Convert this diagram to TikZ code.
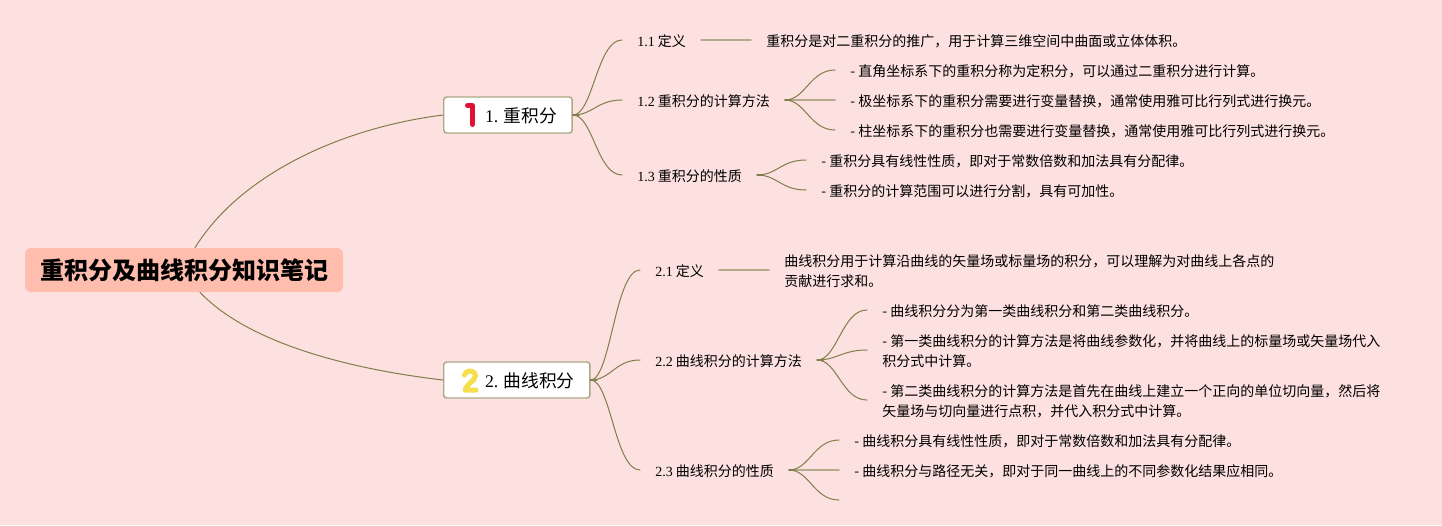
\documentclass[tikz,border=0pt]{standalone}
\usepackage{fontspec}
\setmainfont{Liberation Serif}
\newfontfamily\zhfont{Noto Sans CJK SC}
\definecolor{pagebg}{HTML}{FDE0E0}
\definecolor{rootfill}{HTML}{FFBDAD}
\definecolor{twigline}{HTML}{7F7F4A}
\definecolor{stemline}{HTML}{B3AB8C}
\definecolor{boxline}{HTML}{ADA985}
\definecolor{markred}{HTML}{DF1234}
\definecolor{markyellow}{HTML}{F5DF4D}
\tikzset{
  every picture/.style={line join=round, line cap=round},
  rootbox/.style={fill=rootfill, rounded corners=4.5pt, minimum width=238.5pt, minimum height=33pt, inner sep=0pt, text height=15.5pt, text depth=2pt, font=\zhfont\fontsize{18}{22}\selectfont\bfseries},
  topicbox/.style={draw=boxline, line width=1.1pt, fill=white, rounded corners=2.2pt, anchor=west, minimum height=27pt, inner xsep=11.5pt, inner ysep=0pt, text height=12.5pt, text depth=1.5pt, font=\zhfont\fontsize{13.3}{16}\selectfont},
  leafbase/.style={anchor=west, inner xsep=11.25pt, inner ysep=0pt, align=left, font=\zhfont\fontsize{10.5}{15}\selectfont, execute at end node={\rule[-1.8pt]{0pt}{1.8pt}}},
  leaf/.style={leafbase, execute at begin node={\rule{0pt}{11.5pt}}},
  wrapleaf/.style={leafbase, execute at begin node={\rule{0pt}{26.5pt}}},
  twig/.style={draw=twigline, line width=0.75pt},
  stub/.style={draw=twigline, line width=1.3pt},
  stem/.style={draw=stemline, line width=1.4pt},
}
\newcommand{\latin}[1]{{\rmfamily #1}}
\begin{document}
\begin{tikzpicture}[x=0.75pt,y=-0.75pt]
\useasboundingbox (0,0) rectangle (1442,525);
\fill[pagebg] (0,0) rectangle (1442,525);
\node[rootbox] (root) at (184,270) {重积分及曲线积分知识笔记};
\node[topicbox] (one) at (443,115) {\hspace*{19.5pt}\latin{1.} 重积分};
\node[topicbox] (two) at (443,380) {\hspace*{19.5pt}\latin{2.} 曲线积分};
\node[leaf] (oneone) at (622,40) {\latin{1.1} 定义};
\node[leaf] (onetwo) at (622,100) {\latin{1.2} 重积分的计算方法};
\node[leaf] (onethree) at (622,175) {\latin{1.3} 重积分的性质};
\node[leaf] (oneonetext) at (751,40) {重积分是对二重积分的推广，用于计算三维空间中曲面或立体体积。};
\node[leaf] (onetwoa) at (835,70) {- 直角坐标系下的重积分称为定积分，可以通过二重积分进行计算。};
\node[leaf] (onetwob) at (835,100) {- 极坐标系下的重积分需要进行变量替换，通常使用雅可比行列式进行换元。};
\node[leaf] (onetwoc) at (835,130) {- 柱坐标系下的重积分也需要进行变量替换，通常使用雅可比行列式进行换元。};
\node[leaf] (onethreea) at (806,160) {- 重积分具有线性性质，即对于常数倍数和加法具有分配律。};
\node[leaf] (onethreeb) at (806,190) {- 重积分的计算范围可以进行分割，具有可加性。};
\node[leaf] (twoone) at (640,270) {\latin{2.1} 定义};
\node[leaf] (twotwo) at (640,360) {\latin{2.2} 曲线积分的计算方法};
\node[leaf] (twothree) at (640,470) {\latin{2.3} 曲线积分的性质};
\node[wrapleaf] (twoonetext) at (769,270) {曲线积分用于计算沿曲线的矢量场或标量场的积分，可以理解为对曲线上各点的\\贡献进行求和。};
\node[leaf] (twotwoa) at (867,310) {- 曲线积分分为第一类曲线积分和第二类曲线积分。};
\node[wrapleaf] (twotwob) at (867,350) {- 第一类曲线积分的计算方法是将曲线参数化，并将曲线上的标量场或矢量场代入\\积分式中计算。};
\node[wrapleaf] (twotwoc) at (867,400) {- 第二类曲线积分的计算方法是首先在曲线上建立一个正向的单位切向量，然后将\\矢量场与切向量进行点积，并代入积分式中计算。};
\node[leaf] (twothreea) at (839,440) {- 曲线积分具有线性性质，即对于常数倍数和加法具有分配律。};
\node[leaf] (twothreeb) at (839,470) {- 曲线积分与路径无关，即对于同一曲线上的不同参数化结果应相同。};
\coordinate (twothreec) at (839,500);
\draw[twig] ([xshift=8.25pt]root.north) .. controls (240,175) and (340,128) .. (one.west);
\draw[twig] ([xshift=12pt]root.south) .. controls (245,340) and (340,368) .. (two.west);
\foreach \from/\to in {one/oneone,one/onetwo,one/onethree,two/twoone,two/twotwo,two/twothree,onetwo/onetwoa,onetwo/onetwoc,onethree/onethreea,onethree/onethreeb,twotwo/twotwoa,twotwo/twotwob,twotwo/twotwoc,twothree/twothreea}
  \draw[twig] (\from.east) .. controls +(20,0) and +(-25,0) .. (\to.west);
\draw[twig] (twothree.east) .. controls +(20,0) and +(-25,0) .. (twothreec);
\foreach \from/\to in {oneone/oneonetext,onetwo/onetwob,twoone/twoonetext,twothree/twothreeb}
  \draw[stem] (\from.east) -- (\to.west);
\foreach \from in {one,two,onetwo,onethree,twotwo,twothree}
  \draw[stub] (\from.east) -- +(6,0);
\draw[markred,line width=3.75pt] (467.5,105.5)--(472.5,105.5)--(472.5,124.5);
\draw[markyellow,line width=3.75pt] (464.5,375) .. controls (465,369.5) and (475.5,369.5) .. (475.5,375.5) .. controls (475.5,381) and (466,384) .. (465,390) -- (476,390);
\end{tikzpicture}
\end{document}
